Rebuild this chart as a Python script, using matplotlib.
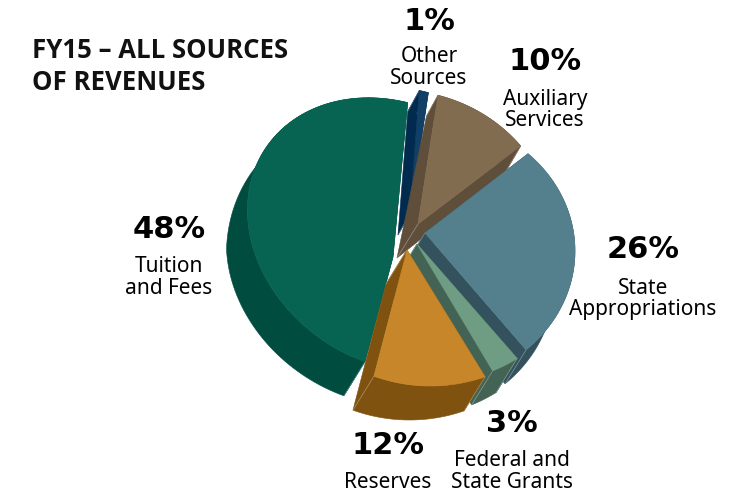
import numpy as np
import matplotlib
matplotlib.use("Agg")
import matplotlib.pyplot as plt
from matplotlib.patches import Polygon

# ---- data (drawing order is back to front, clockwise from Other Sources)
categories = ["Tuition and Fees", "Other Sources", "Auxiliary Services",
              "State Appropriations", "Federal and State Grants", "Reserves"]
shares = [48, 1, 10, 26, 3, 12]
label_lines = [["Tuition", "and Fees"], ["Other", "Sources"], ["Auxiliary", "Services"],
               ["State", "Appropriations"], ["Federal and", "State Grants"], ["Reserves"]]

# ---- styles
face_colors = ["#076352", "#123F66", "#826C50", "#54808E", "#6F9D83", "#C8862A"]
side_colors = ["#004D40", "#002B4E", "#5F4E3A", "#34525E", "#436454", "#7F520F"]

# ---- layout, in pixels: projected ellipse of each exploded slice
centres = [(395.5, 235), (385, 220), (396, 240), (423, 251), (431.6, 247.6), (430.5, 251)]
radii = [(148, 134), (150, 133), (160, 150), (152, 134.5), (150, 135), (151, 135)]
phases = [-4.2, 6.2, 4.6, -2.9, 5.0, 7.8]
shear_x = [-0.037, 0, 0, 0, 0, 0]
shear_y = [0.2, 0, 0, 0, 0, 0]
apexes = [(393, 257), (410, 213), (418, 224), (425, 233), (417, 244), (407, 250)]
apex_depth = [None, (-12, 22), (-21, 34), (-21, 34), (-21, 34), (-21, 34)]
label_pos = [(169, 229, [266, 289]), (429, 22, [57, 79]), (545, 62, [99, 120]),
             (643, 250, [288, 310]), (512, 424, [460, 482]), (388, 446, [483])]
START = 194.2

W, H = 755, 493
fig = plt.figure(figsize=(W / 100, H / 100), dpi=100)
ax = fig.add_axes([0, 0, 1, 1])
ax.set_xlim(0, W)
ax.set_ylim(H, 0)
ax.axis("off")


def depth(p):
    """Extrusion vector: shorter towards the back of the tilted pie."""
    t = np.clip((p[1] - 95) / (215 - 95), 0, 1)
    return np.array([-11.5 - 9.5 * t, 21 + 13 * t])


def arc(i, a0, a1):
    th = np.radians(np.linspace(a0, a1, 90) + phases[i])
    cx, cy = centres[i]
    rx, ry = radii[i]
    x = rx * np.sin(th)
    y = -ry * np.cos(th)
    return np.column_stack([cx + x + shear_x[i] * y, cy + y + shear_y[i] * x])


def quad(p, q, dp, dq, color, z):
    pts = [p, q, np.asarray(q) + dq, np.asarray(p) + dp]
    ax.add_patch(Polygon(pts, closed=True, fc=color, ec=color, lw=0.4, zorder=z))


def ridge(p, d, z):
    p = np.asarray(p)
    ax.plot([p[0], p[0] + d[0]], [p[1], p[1] + d[1]], color="white", lw=0.5,
            alpha=0.35, zorder=z)


angles = np.cumsum([0] + shares) * 3.6
for i in range(len(shares)):
    a0, a1 = START + angles[i], START + angles[i + 1]
    pts = arc(i, a0, a1)
    apex = np.array(apexes[i], float)
    dv = depth(apex) if apex_depth[i] is None else np.array(apex_depth[i], float)
    z = 2 + 2 * i
    quad(apex, pts[0], dv, depth(pts[0]), side_colors[i], z)
    quad(apex, pts[-1], dv, depth(pts[-1]), side_colors[i], z)
    lower = pts + np.array([depth(p) for p in pts])
    ax.add_patch(Polygon(np.vstack([pts, lower[::-1]]), closed=True, fc=side_colors[i],
                         ec=side_colors[i], lw=0.4, zorder=z))
    ridge(pts[0], depth(pts[0]), z + 0.5)
    ridge(pts[-1], depth(pts[-1]), z + 0.5)
    ridge(apex, dv, z + 0.5)
    ax.add_patch(Polygon(np.vstack([apex, pts]), closed=True, fc=face_colors[i],
                         ec=face_colors[i], lw=0.4, zorder=z + 1))

ax.text(32, 50, "FY15 – ALL SOURCES", family="Open Sans", weight="bold", fontsize=18.5,
        va="center", ha="left", color="#111111", zorder=30)
ax.text(32, 82, "OF REVENUES", family="Open Sans", weight="bold", fontsize=18.5,
        va="center", ha="left", color="#111111", zorder=30)

for share, lines, (x, y, ys) in zip(shares, label_lines, label_pos):
    ax.text(x, y, f"{share}%", family="DejaVu Sans", weight="bold", fontsize=22,
            ha="center", va="center", color="black", zorder=30)
    for line, ly in zip(lines, ys):
        ax.text(x, ly, line, family="Noto Sans", fontsize=15, ha="center",
                va="center", color="black", zorder=30)

fig.savefig("out.png", dpi=100)
